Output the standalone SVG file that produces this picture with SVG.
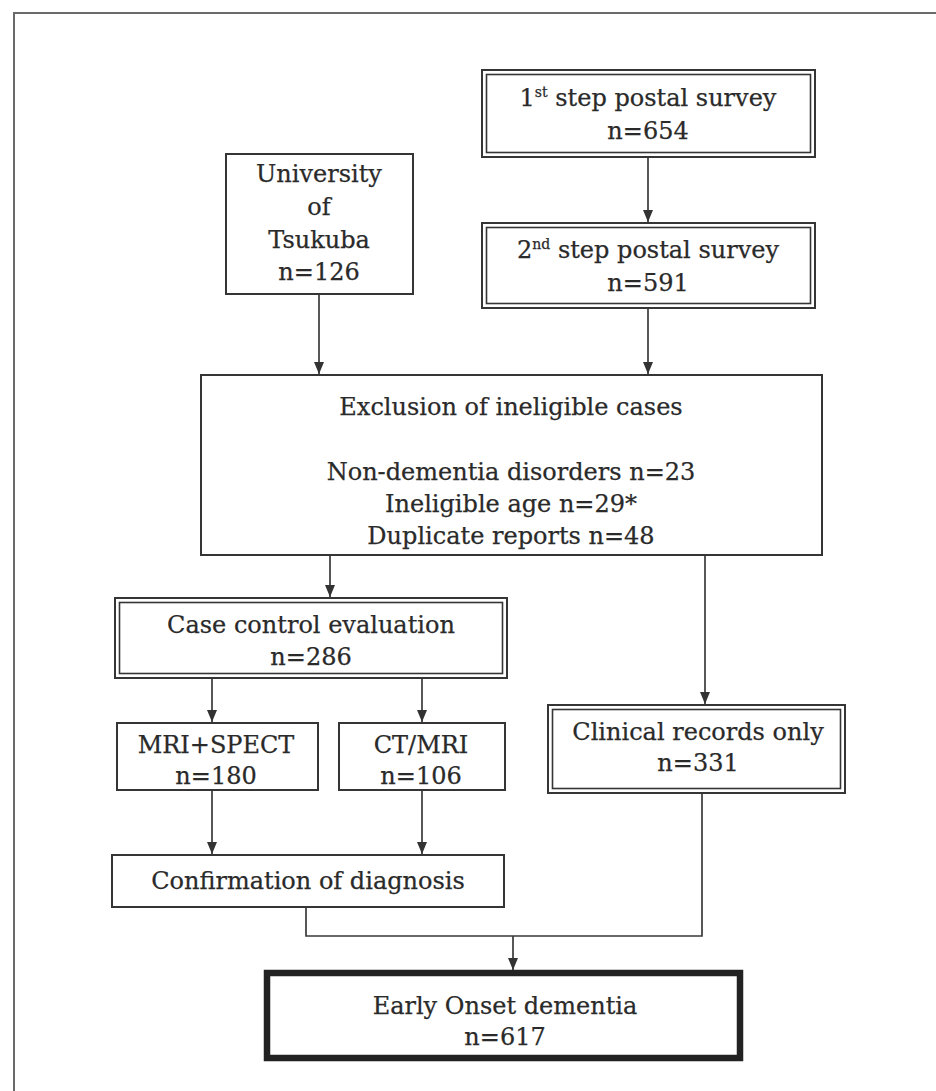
<svg xmlns="http://www.w3.org/2000/svg" width="936" height="1091" viewBox="0 0 936 1091">
<defs>
<style>
.t{font-family:"DejaVu Serif","Liberation Serif",serif;font-size:24px;fill:#2a2a2a;stroke:#2a2a2a;stroke-width:0.25;text-anchor:middle}
.sup{font-size:14px}
.box{fill:#fff;stroke:#353535;stroke-width:2}
.inner{fill:none;stroke:#353535;stroke-width:1.6}
.thick{fill:#fff;stroke:#222;stroke-width:6.5}
.ln{fill:none;stroke:#3a3a3a;stroke-width:1.7}
.frame{fill:none;stroke:#6a6a6a;stroke-width:2}
</style>
<marker id="ah" markerWidth="12" markerHeight="12" viewBox="0 0 12 12" refX="12" refY="6" orient="auto" markerUnits="userSpaceOnUse">
<path d="M0,1 L12,6 L0,11 Z" fill="#333"/>
</marker>
</defs>
<rect width="936" height="1091" fill="#fff"/>
<rect class="frame" x="14" y="13" width="940" height="1100"/>

<g id="connectors">
<line class="ln" x1="648" y1="157" x2="648" y2="222" marker-end="url(#ah)"/>
<line class="ln" x1="319" y1="294" x2="319" y2="374" marker-end="url(#ah)"/>
<line class="ln" x1="648" y1="308" x2="648" y2="374" marker-end="url(#ah)"/>
<line class="ln" x1="330" y1="555" x2="330" y2="597" marker-end="url(#ah)"/>
<line class="ln" x1="705" y1="555" x2="705" y2="704" marker-end="url(#ah)"/>
<line class="ln" x1="212" y1="678" x2="212" y2="722" marker-end="url(#ah)"/>
<line class="ln" x1="422" y1="678" x2="422" y2="722" marker-end="url(#ah)"/>
<line class="ln" x1="212" y1="790" x2="212" y2="854" marker-end="url(#ah)"/>
<line class="ln" x1="422" y1="790" x2="422" y2="854" marker-end="url(#ah)"/>
<polyline class="ln" points="306,907 306,936 702,936 702,793"/>
<line class="ln" x1="513" y1="936" x2="513" y2="970" marker-end="url(#ah)"/>
</g>

<g id="n1">
<rect class="box" x="482" y="70" width="333" height="87"/>
<rect class="inner" x="486.5" y="74.5" width="324" height="78"/>
<text class="t" x="648" y="106">1<tspan class="sup" dy="-9">st</tspan><tspan dy="9"> step postal survey</tspan></text>
<text class="t" x="648" y="139">n=654</text>
</g>

<g id="n2">
<rect class="box" x="482" y="223" width="333" height="85"/>
<rect class="inner" x="486.5" y="227.5" width="324" height="76"/>
<text class="t" x="648" y="258">2<tspan class="sup" dy="-9">nd</tspan><tspan dy="9"> step postal survey</tspan></text>
<text class="t" x="648" y="291">n=591</text>
</g>

<g id="univ">
<rect class="box" x="226" y="154" width="187" height="140"/>
<text class="t" x="319" y="182">University</text>
<text class="t" x="319" y="215">of</text>
<text class="t" x="319" y="248">Tsukuba</text>
<text class="t" x="319" y="280">n=126</text>
</g>

<g id="excl">
<rect class="box" x="201" y="375" width="621" height="180"/>
<text class="t" x="511" y="415">Exclusion of ineligible cases</text>
<text class="t" x="511" y="480">Non-dementia disorders n=23</text>
<text class="t" x="511" y="512">Ineligible age n=29*</text>
<text class="t" x="511" y="544">Duplicate reports n=48</text>
</g>

<g id="case">
<rect class="box" x="115" y="598" width="392" height="80"/>
<rect class="inner" x="119.5" y="602.5" width="383" height="71"/>
<text class="t" x="311" y="633">Case control evaluation</text>
<text class="t" x="311" y="665">n=286</text>
</g>

<g id="mri">
<rect class="box" x="117" y="723" width="201" height="67"/>
<text class="t" x="216" y="753">MRI+SPECT</text>
<text class="t" x="216" y="784">n=180</text>
</g>

<g id="ct">
<rect class="box" x="339" y="723" width="166" height="67"/>
<text class="t" x="421" y="753">CT/MRI</text>
<text class="t" x="421" y="784">n=106</text>
</g>

<g id="clin">
<rect class="box" x="548" y="705" width="297" height="88"/>
<rect class="inner" x="552.5" y="709.5" width="288" height="79"/>
<text class="t" x="698" y="740">Clinical records only</text>
<text class="t" x="698" y="771">n=331</text>
</g>

<g id="conf">
<rect class="box" x="112" y="855" width="392" height="52"/>
<text class="t" x="308" y="889">Confirmation of diagnosis</text>
</g>

<g id="early">
<rect class="thick" x="267" y="973" width="473" height="85"/>
<text class="t" x="505" y="1014">Early Onset dementia</text>
<text class="t" x="505" y="1045">n=617</text>
</g>
</svg>
